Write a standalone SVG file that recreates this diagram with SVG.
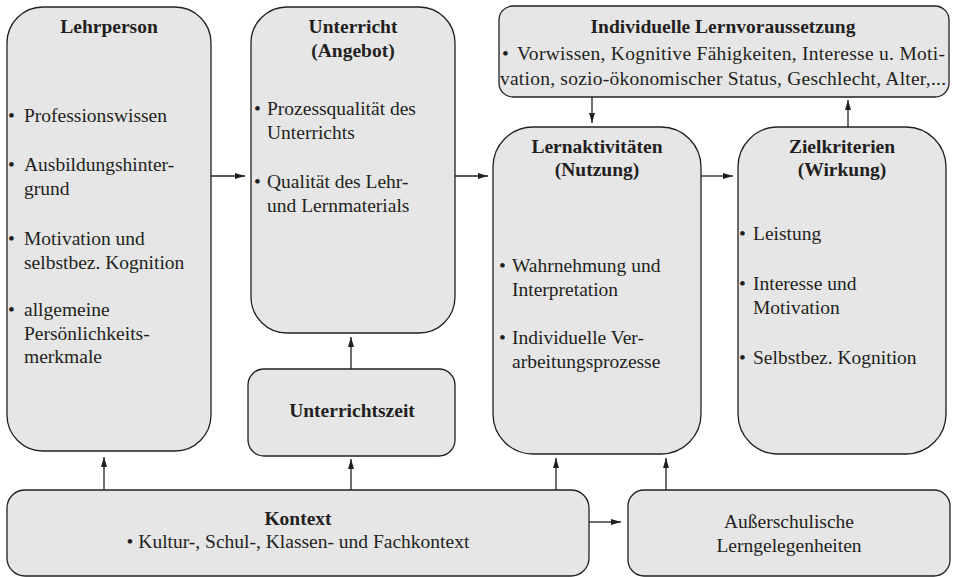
<svg xmlns="http://www.w3.org/2000/svg" width="953" height="577" viewBox="0 0 953 577" font-family="'Liberation Serif', 'DejaVu Serif', serif">
<defs>
<style>
.box{fill:#e6e6e6;stroke:#231f20;stroke-width:1.3}
text{font-size:19.5px;fill:#231f20}
.t{font-weight:bold;text-anchor:middle}
.c{text-anchor:middle}
.ln{stroke:#231f20;stroke-width:1.3;fill:none;marker-end:url(#ah)}
</style>
<marker id="ah" viewBox="0 0 10 6" refX="10" refY="3" markerWidth="10" markerHeight="6" markerUnits="userSpaceOnUse" orient="auto">
<path d="M0,0 L10,3 L0,6 Z" fill="#231f20"/>
</marker>
</defs>
<rect width="953" height="577" fill="#fff"/>

<g id="connectors">
<line class="ln" x1="211" y1="176" x2="245" y2="176"/>
<line class="ln" x1="455" y1="176" x2="488" y2="176"/>
<line class="ln" x1="701" y1="176" x2="733" y2="176"/>
<line class="ln" x1="592" y1="97" x2="592" y2="123"/>
<line class="ln" x1="848" y1="127" x2="848" y2="100"/>
<line class="ln" x1="351" y1="369" x2="351" y2="337"/>
<line class="ln" x1="104" y1="490" x2="104" y2="457"/>
<line class="ln" x1="351" y1="490" x2="351" y2="459"/>
<line class="ln" x1="556" y1="490" x2="556" y2="458"/>
<line class="ln" x1="666" y1="490" x2="666" y2="458"/>
<line class="ln" x1="589" y1="522" x2="621" y2="522"/>
</g>

<g id="lehrperson">
<rect class="box" x="7" y="7" width="204" height="444" rx="36" ry="36"/>
<text class="t" x="109" y="33">Lehrperson</text>
<text x="8" y="122">•</text><text x="24" y="122">Professionswissen</text>
<text x="8" y="171">•</text><text x="24" y="171">Ausbildungshinter-</text>
<text x="24" y="194.5">grund</text>
<text x="8" y="245">•</text><text x="24" y="245">Motivation und</text>
<text x="24" y="268.5">selbstbez. Kognition</text>
<text x="8" y="316">•</text><text x="24" y="316">allgemeine</text>
<text x="24" y="339.5">Persönlichkeits-</text>
<text x="24" y="363">merkmale</text>
</g>

<g id="unterricht">
<rect class="box" x="251" y="7" width="204" height="326" rx="36" ry="36"/>
<text class="t" x="353" y="33">Unterricht</text>
<text class="t" x="353" y="57">(Angebot)</text>
<text x="254" y="115">•</text><text x="267" y="115">Prozessqualität des</text>
<text x="267" y="139">Unterrichts</text>
<text x="254" y="188">•</text><text x="267" y="188">Qualität des Lehr-</text>
<text x="267" y="212">und Lernmaterials</text>
</g>

<g id="unterrichtszeit">
<rect class="box" x="248" y="369" width="207" height="87" rx="16" ry="16"/>
<text class="t" x="352" y="417">Unterrichtszeit</text>
</g>

<g id="lernvoraussetzung">
<rect class="box" x="499" y="6" width="450" height="91" rx="14" ry="14"/>
<text class="t" x="723" y="33">Individuelle Lernvoraussetzung</text>
<text x="502" y="60">•</text><text x="517" y="60" textLength="428" lengthAdjust="spacing">Vorwissen, Kognitive Fähigkeiten, Interesse u. Moti-</text>
<text x="500" y="85" textLength="446" lengthAdjust="spacing">vation, sozio-ökonomischer Status, Geschlecht, Alter,...</text>
</g>

<g id="lernaktivitaeten">
<rect class="box" x="493" y="127" width="208" height="327" rx="40" ry="40"/>
<text class="t" x="597" y="153">Lernaktivitäten</text>
<text class="t" x="597" y="176">(Nutzung)</text>
<text x="499" y="272">•</text><text x="512" y="272">Wahrnehmung und</text>
<text x="512" y="296">Interpretation</text>
<text x="499" y="344">•</text><text x="512" y="344">Individuelle Ver-</text>
<text x="512" y="368">arbeitungsprozesse</text>
</g>

<g id="zielkriterien">
<rect class="box" x="738" y="127" width="208" height="327" rx="40" ry="40"/>
<text class="t" x="842" y="153">Zielkriterien</text>
<text class="t" x="842" y="176">(Wirkung)</text>
<text x="739" y="240">•</text><text x="753" y="240">Leistung</text>
<text x="739" y="290">•</text><text x="753" y="290">Interesse und</text>
<text x="753" y="314">Motivation</text>
<text x="739" y="364">•</text><text x="753" y="364">Selbstbez. Kognition</text>
</g>

<g id="kontext">
<rect class="box" x="7" y="490" width="582" height="86" rx="18" ry="18"/>
<text class="t" x="298" y="525">Kontext</text>
<text class="c" x="298" y="548">• Kultur-, Schul-, Klassen- und Fachkontext</text>
</g>

<g id="ausserschulisch">
<rect class="box" x="628" y="490" width="322" height="86" rx="16" ry="16"/>
<text class="c" x="789" y="528">Außerschulische</text>
<text class="c" x="789" y="552">Lerngelegenheiten</text>
</g>
</svg>
